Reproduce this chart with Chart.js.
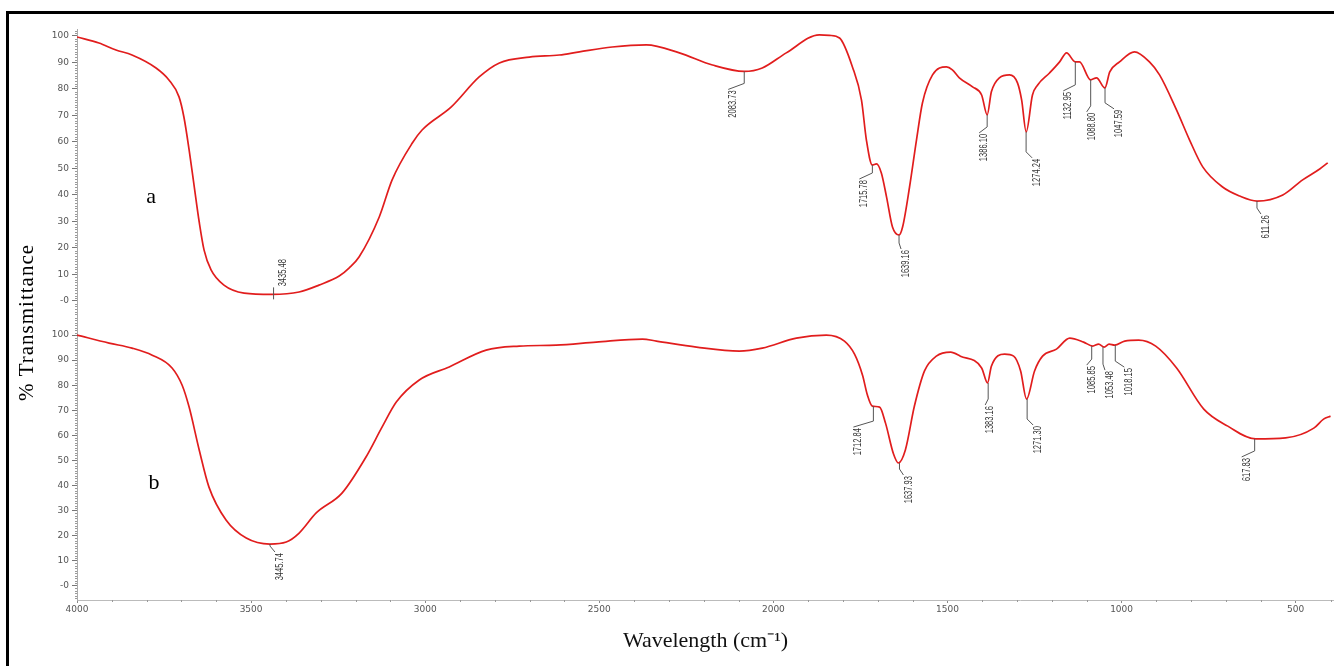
<!DOCTYPE html>
<html>
<head>
<meta charset="utf-8">
<script src="https://cdn.jsdelivr.net/npm/chart.js"></script>
<style>
html,body{margin:0;padding:0;background:#fff}
#wrap{position:relative;width:1334px;height:666px;overflow:hidden}
#c{position:absolute;left:0;top:0}
#frame{position:absolute;left:6px;top:11px;width:1400px;height:700px;border-left:3px solid #000;border-top:3px solid #000;pointer-events:none}
</style>
</head>
<body>
<div id="wrap"><canvas id="c" width="1334" height="666"></canvas><div id="frame"></div></div>
<script>
// spectrum a (top)
const wnA=[4000,3937,3888,3842,3773,3736,3707,3693,3678,3664,3649,3635,3615,3578,3520,3440,3362,3305,3247,3218,3190,3132,3095,3037,3009,2925,2845,2787,2701,2615,2557,2463,2365,2270,2175,2084,2032,1963,1868,1839,1810,1773,1747,1733,1716,1704,1690,1675,1658,1639,1629,1609,1589,1572,1543,1503,1486,1466,1428,1402,1386,1374,1351,1322,1299,1287,1274,1256,1241,1207,1178,1158,1133,1121,1089,1072,1048,1034,1006,963,920,891,842,805,767,710,661,611,537,480,431,408]
const tA=[99.6,97.3,94.7,92.8,87.9,83.4,77,69.4,57,43.8,29.8,19.2,11.7,6,3,2.5,3.4,6,9.4,12.5,16.6,31.7,45.7,59.6,64.5,73.2,84.5,89.8,92,92.8,94,95.8,96.6,93.6,89,86.6,87.9,93.6,100.4,100.2,99.2,88.3,75.8,60.8,51.3,51.7,48.3,39.2,27.9,24.9,27.9,43,60.8,74.7,85.3,88.3,87.2,84.2,80.8,77.7,70.2,78.9,84.2,85.3,82.3,75.8,63.8,77.7,81.5,86,90.2,93.6,90.2,90.2,83.4,84.2,80.4,86.4,90.2,94,90.2,85.3,72,60.8,50.6,43,39.6,37.7,40,45.7,49.8,52.1]

// spectrum b (bottom)
const wnB=[4000,3908,3842,3784,3727,3698,3678,3649,3621,3572,3514,3446,3399,3362,3313,3239,3170,3124,3083,3017,2931,2825,2730,2624,2509,2376,2336,2221,2098,2032,1934,1848,1796,1767,1744,1730,1716,1695,1678,1655,1641,1621,1595,1566,1532,1491,1463,1402,1385,1374,1336,1310,1290,1273,1250,1227,1187,1149,1109,1083,1066,1050,1036,1020,991,951,902,842,764,695,615,529,448,420,400]
const tB=[100,96.8,94.8,92,86.9,80,71.3,54.2,39.4,26.3,19.1,16.7,17.5,21.1,29.1,37,51.4,63.3,73.3,82.1,87.3,94,95.6,96,97.2,98.4,97.6,95.2,93.6,94.8,98.8,100,97.6,92.4,84,76.1,71.7,71.3,64.9,52.6,49,54.2,71.7,85.7,91.6,93.2,91.6,86.9,80.9,87.6,92.4,91.6,85.7,74.5,85.7,91.6,94.4,98.8,97.2,95.6,96.4,95.2,96.4,96,97.6,98,95.6,86.9,70.5,63.7,58.6,59,62.9,66.5,67.7]

// marked peaks [wavenumber, %T]
const peaksA=[[3435.48,2.5],[2083.73,86.6],[1715.78,51.3],[1639.16,24.9],[1386.10,70.2],[1274.24,63.8],[1132.95,90.2],[1088.80,83.4],[1047.59,80.4],[611.26,37.7]]
const peaksB=[[3445.74,16.7],[1712.84,71.7],[1637.93,49],[1383.16,80.9],[1271.30,74.5],[1085.85,95.6],[1053.48,95.2],[1018.15,96],[617.83,58.6]]

const yMajor=[0,10,20,30,40,50,60,70,80,90,100]
const xMajor=[4000,3500,3000,2500,2000,1500,1000,500]

// leader line styling for each peak label: [drop, shift]
const leadA=[[-7,9],[12,-11],[8,-8],[8,7],[12,-3],[20,11],[23,-7],[26,1],[15,14],[7,9]]
const leadB=[[2,10],[15,-15],[6,9],[16,2],[20,11],[13,0],[17,7],[16,14],[12,-8]]

const yAxis=(min,max,weight)=>({
position:"left",stack:"ir",stackWeight:weight,min:min,max:max,
afterBuildTicks:s=>{s.ticks=yMajor.map(v=>({value:v}))},
afterFit:s=>{s.width=77},
grid:{drawOnChartArea:false,tickLength:5,tickColor:"#777"},
border:{color:"#aaa"},
ticks:{autoSkip:false,padding:3,color:"#555",font:{family:"DejaVu Sans",size:9},callback:v=>v===0?"-0":String(v)}
})

const irMarks={
id:"irMarks",
afterDraw(chart){
const {ctx,chartArea,scales:{x,yA,yB}}=chart
ctx.save()
// minor ticks
ctx.strokeStyle="#999"
ctx.lineWidth=1
;[yA,yB].forEach(s=>{
for(let v=Math.ceil(s.min);v<=Math.floor(s.max);v++){
if(v%10===0)continue
const py=Math.round(s.getPixelForValue(v))+0.5
ctx.beginPath();ctx.moveTo(s.right-2,py);ctx.lineTo(s.right,py);ctx.stroke()
}
})
for(let v=400;v<4000;v+=100){
if(v%500===0)continue
const px=Math.round(x.getPixelForValue(v))+0.5
ctx.beginPath();ctx.moveTo(px,x.top);ctx.lineTo(px,x.top+2);ctx.stroke()
}
// peak labels
const mark=(s,peaks,leads)=>peaks.forEach(([wn,t],i)=>{
const [drop,shift]=leads[i]
const px=x.getPixelForValue(wn),py=s.getPixelForValue(t)
const lab=wn.toFixed(2)
ctx.strokeStyle="#555"
ctx.lineWidth=1
ctx.beginPath()
let ty
if(drop<0){
ctx.moveTo(px,py+5);ctx.lineTo(px,py+drop)
ty=py+drop-1
}else{
ctx.moveTo(px,py);ctx.lineTo(px,py+drop);ctx.lineTo(px+shift-5,py+drop+6)
ty=py+drop+7
}
ctx.stroke()
ctx.save()
ctx.translate(px+shift,ty)
ctx.rotate(-Math.PI/2)
ctx.font='11px "Liberation Sans Narrow","Arial Narrow","Liberation Sans",Arial,sans-serif'
const w=ctx.measureText(lab).width
ctx.scale(Math.min(1,lab.length*3.9/w),1)
ctx.fillStyle="#333"
ctx.textAlign=drop<0?"left":"right"
ctx.textBaseline="middle"
ctx.fillText(lab,0,0)
ctx.restore()
})
mark(yA,peaksA,leadA)
mark(yB,peaksB,leadB)
// panel tags
ctx.fillStyle="#000"
ctx.font='22px "Liberation Serif","Times New Roman",serif'
ctx.textAlign="center"
ctx.textBaseline="middle"
ctx.fillText("a",x.getPixelForValue(3787),yA.getPixelForValue(39))
ctx.fillText("b",x.getPixelForValue(3779),yB.getPixelForValue(41))
// y title
ctx.save()
ctx.translate(27,(chartArea.top+chartArea.bottom)/2+8)
ctx.rotate(-Math.PI/2)
ctx.font='21px "Liberation Serif","Times New Roman",serif'
ctx.letterSpacing="1px"
ctx.fillText("% Transmittance",0,0)
ctx.restore()
ctx.restore()
}
}

new Chart(document.getElementById("c"),{
type:"line",
data:{datasets:[
{label:"a",data:wnA.map((w,i)=>({x:w,y:tA[i]})),yAxisID:"yA"},
{label:"b",data:wnB.map((w,i)=>({x:w,y:tB[i]})),yAxisID:"yB"}
]},
options:{
responsive:false,
animation:false,
layout:{padding:{top:29,left:0,right:0,bottom:0}},
elements:{
line:{borderColor:"#e11d1d",borderWidth:1.7,cubicInterpolationMode:"monotone",fill:false},
point:{radius:0}
},
plugins:{legend:{display:false},tooltip:{enabled:false}},
scales:{
x:{
type:"linear",reverse:true,min:390,max:4000,
afterBuildTicks:s=>{s.ticks=xMajor.map(v=>({value:v}))},
afterFit:s=>{s.height=66},
grid:{drawOnChartArea:false,tickLength:3,tickColor:"#888"},
border:{color:"#bbb"},
ticks:{autoSkip:false,maxRotation:0,padding:1,color:"#555",font:{family:"DejaVu Sans",size:9},callback:v=>String(v)},
title:{display:true,text:"Wavelength (cm⁻¹)",color:"#111",font:{family:"Liberation Serif",size:22},padding:{top:0,bottom:12}}
},
// left boxes are stacked in reverse order, so the lower panel is listed first
yB:yAxis(-5.6,107.6,284),
yA:yAxis(-5.66,102.6,287)
}
},
plugins:[irMarks]
})
</script>
</body>
</html>
